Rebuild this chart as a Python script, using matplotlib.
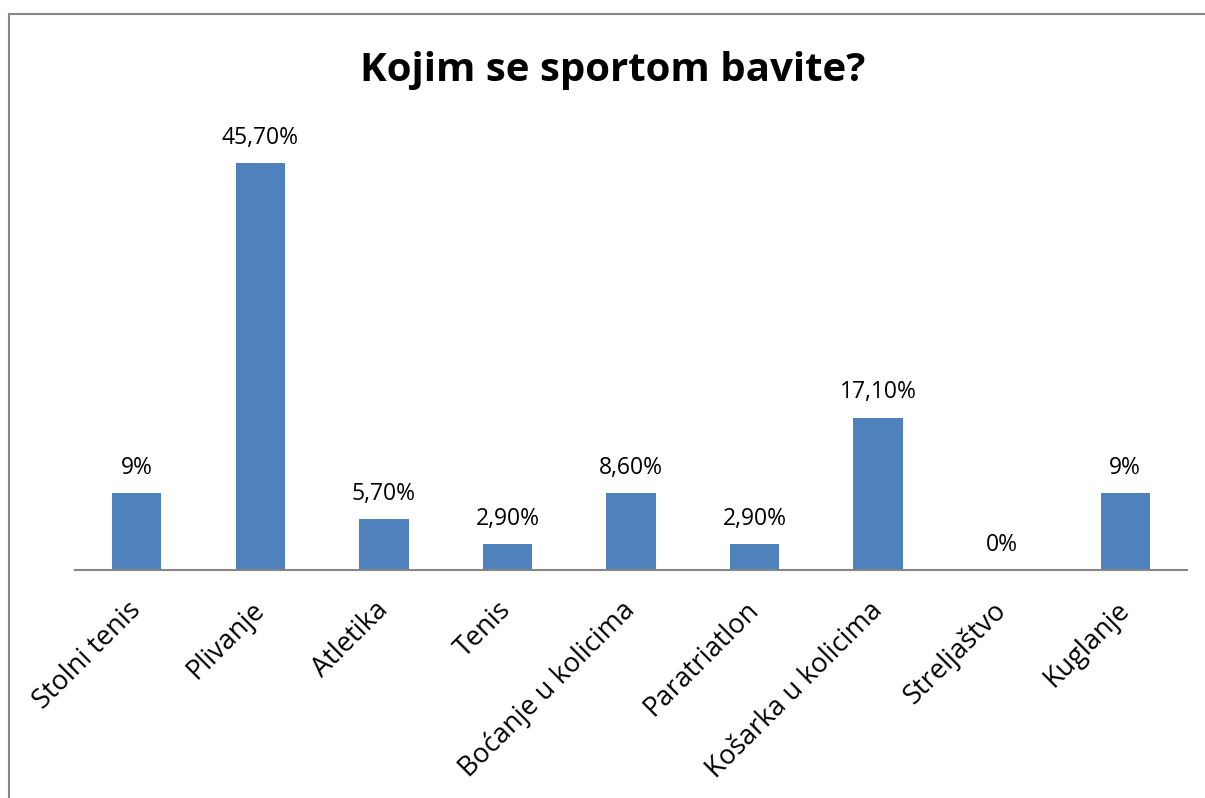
#---------import---------#
import numpy as np
import matplotlib
matplotlib.use('Agg')
import matplotlib.pyplot as plt
from matplotlib.patches import Rectangle
#------------------------#


#----------Data----------#
sports = ['Stolni tenis', 'Plivanje', 'Atletika', 'Tenis', 'Boćanje u kolicima',
          'Paratriatlon', 'Košarka u kolicima', 'Streljaštvo', 'Kuglanje']
percent = [8.6, 45.7, 5.7, 2.9, 8.6, 2.9, 17.1, 0, 8.6]
percent_labels = ['9%', '45,70%', '5,70%', '2,90%', '8,60%', '2,90%', '17,10%', '0%', '9%']
#------------------------#


#------Setting_font------#
plt.rcParams['font.family'] = ['Open Sans', 'DejaVu Sans']
#------------------------#


#---------Figure---------#
fig = plt.figure(figsize=(12.05, 7.98), dpi=100)
ax = fig.add_axes([75/1205, 1-570/798, (1187-75)/1205, 445/798])

x = np.arange(len(sports))
bars = ax.bar(x, percent, width=0.4, color='#4F81BD', zorder=2)
for xi, v, lab in zip(x, percent, percent_labels):
    ax.text(xi, v + 1.5, lab, ha='center', va='bottom', fontsize=16.5)

ax.set_xlim(-0.5, len(sports) - 0.5)
ax.set_ylim(0, 50)
ax.set_yticks([])
for s in ['top', 'right', 'left']:
    ax.spines[s].set_visible(False)
ax.spines['bottom'].set_color('#868686')
ax.spines['bottom'].set_linewidth(1.5)
ax.tick_params(axis='x', length=0, pad=26)
ax.set_xticks(x)
ax.set_xticklabels(sports, rotation=45, ha='right', va='center',
                   rotation_mode='anchor', fontsize=19.5)

fig.text(613/1205, 1-70/798, 'Kojim se sportom bavite?', ha='center', va='center',
         fontsize=29, fontweight='bold')

# outer frame
fig.patches.append(Rectangle((9/1205, -0.1), 1.2, 1-14/798+0.1, transform=fig.transFigure,
                             fill=False, edgecolor='#878787', linewidth=1.5))

fig.savefig('out.png', dpi=100)
#------------------------#
